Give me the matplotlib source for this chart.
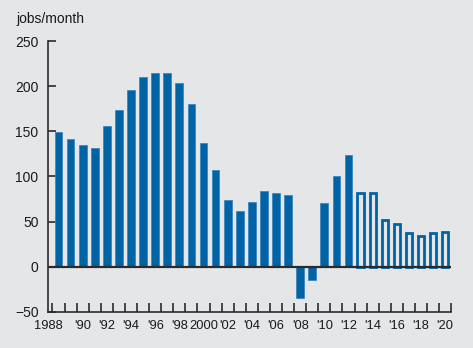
import numpy as np
import matplotlib
matplotlib.use('Agg')
import matplotlib.pyplot as plt

plt.rcParams['font.family'] = ['Liberation Sans', 'DejaVu Sans']

# average monthly job gains per year; 2013 on are projections
years = list(range(1988, 2021))
jobs = [149, 141, 135, 131, 156, 174, 196, 210, 215, 215, 204, 180, 137, 107,
        74, 62, 72, 84, 82, 79, -35, -15, 71, 100, 124,
        82, 82, 52, 47, 37, 34, 37, 38]
first_projected = 2013

tick_labels = ['1988', "'90", "'92", "'94", "'96", "'98", '2000', "'02", "'04",
               "'06", "'08", "'10", "'12", "'14", "'16", "'18", "'20"]

bg = '#e5e6e8'
blue = '#0063a5'
dark = '#2b2b2b'

years = np.array(years)
jobs = np.array(jobs)
actual = years < first_projected

fig = plt.figure(figsize=(4.73, 3.48), dpi=100, facecolor=bg)
ax = fig.add_axes([0.102, 0.104, 0.852, 0.778], facecolor=bg)

ax.bar(years[actual], jobs[actual], width=0.64, color=blue,
       edgecolor='#3d87bf', linewidth=0.6, zorder=2)
ax.bar(years[~actual], jobs[~actual], width=0.52, color=bg,
       edgecolor=blue, linewidth=2.0, zorder=2)

ax.axhline(0, color=dark, linewidth=1.6, zorder=3)

ax.set_xlim(1987.5, 2020.5)
ax.set_ylim(-50, 250)

for side in ['top', 'right']:
    ax.spines[side].set_visible(False)
for side in ['left', 'bottom']:
    ax.spines[side].set_color(dark)
    ax.spines[side].set_linewidth(1.2)

ax.set_yticks([-50, 0, 50, 100, 150, 200, 250])
ax.set_yticklabels(['\u221250', '0', '50', '100', '150', '200', '250'])
ax.tick_params(axis='y', direction='in', length=6, width=1.2, color=dark,
               pad=7, labelsize=10, labelcolor='#1a1a1a')

# tick marks sit between years, labels under every other bar
ax.set_xticks(np.arange(1987.5, 2021.0, 1.0), minor=True)
label_pos = [float(y) for y in range(1988, 2021, 2)]
label_pos[0] = 1987.15
ax.set_xticks(label_pos)
ax.set_xticklabels(tick_labels)
ax.tick_params(axis='x', which='minor', direction='in', length=6.5,
               width=1.2, color=dark)
ax.tick_params(axis='x', which='major', length=0, pad=6, labelsize=9.3,
               labelcolor='#1a1a1a')

fig.text(0.034, 0.945, 'jobs/month', fontsize=10, color='#1a1a1a',
         ha='left', va='center')

fig.savefig('out.png', dpi=100, facecolor=bg)
